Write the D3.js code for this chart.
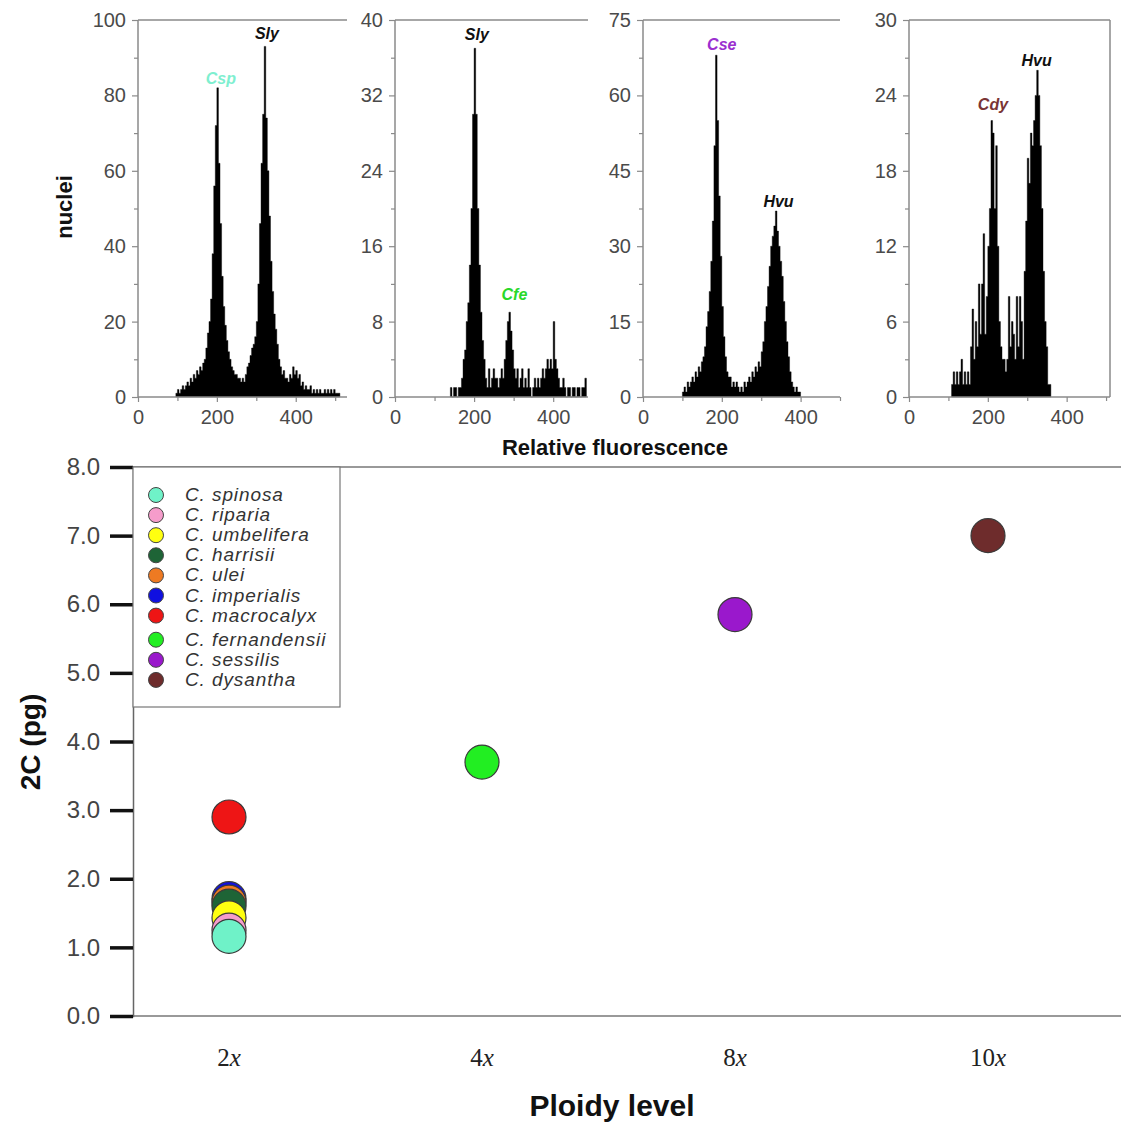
<!DOCTYPE html>
<html>
<head>
<meta charset="utf-8">
<script src="https://cdn.jsdelivr.net/npm/d3@7/dist/d3.min.js"></script>
<style>
    body { margin: 0; background: #fff; }
    svg { display: block; font-family: Arial, "Liberation Sans", sans-serif; }
</style>
</head>
<body>
<svg id="chart" width="1121" height="1123"></svg>
<script>
// ---- flow cytometry histograms (counts per 4-channel bin) ----
const binWidth = 4;

const cspStart = 96;
const cspCounts = [1, 2, 1, 2, 3, 2, 3, 4, 3, 5, 4, 6, 5, 7, 6, 8, 7, 9,
    10, 13, 17, 20, 26, 38, 56, 72, 82, 62, 46, 32, 24, 19, 15, 12, 10, 8, 7, 6, 6, 5, 5, 4, 5, 4,
    6, 8, 9, 11, 13, 14, 16, 20, 30, 46, 62, 75, 93, 74, 60, 48, 36, 28, 22, 18, 14, 10,
    8, 6, 7, 5, 5, 4, 6, 5, 8, 6, 7, 5, 6, 3, 4, 2, 3, 2, 2, 3, 1,
    2, 1, 2, 1, 2, 1, 1, 2, 1, 2, 1, 2, 1, 2, 1, 1, 1];

const cfeStart = 140;
const cfeCounts = [1, 0, 1, 1, 0, 1, 1, 2,
    4, 5, 8, 10, 14, 20, 30, 37, 30, 20, 14, 9, 6, 4,
    2, 1, 3, 1, 2, 3, 2, 2, 1, 2, 3, 2, 4, 6, 8, 9, 7, 5, 3, 2, 3, 1, 2, 3, 1, 2, 1, 3, 1, 0, 1, 2,
    1, 2, 1, 2, 3, 2, 3, 4, 3, 4, 3, 8, 4, 3, 2, 1, 1, 2, 1, 0, 1, 1, 0, 1, 1, 0, 1, 1, 0, 1, 1, 2];

const cseStart = 100;
const cseCounts = [1, 2, 1, 3, 2, 3, 4, 3, 5, 4, 6, 5, 7, 8, 10,
    14, 17, 21, 27, 35, 50, 68, 55, 40, 28, 18, 12, 8,
    5, 4, 4, 2, 3, 2, 3, 2, 1, 2, 1, 3, 2, 3, 4, 3, 5, 4, 6, 5, 7, 6,
    9, 11, 15, 18, 22, 26, 30, 32, 34, 37, 33, 30, 27, 24, 19, 15, 11, 8, 5, 3, 2, 1, 2, 1, 1];

const cdyStart = 108;
const cdyCounts = [1, 2, 1, 2, 1, 2, 3, 1, 2, 1, 2, 1, 4, 7, 3, 6, 4, 9, 5, 9, 13, 5, 8, 12, 15, 22, 21, 15, 20, 12, 6, 4, 3, 3, 2, 3, 8, 4, 6, 5, 3, 8, 4, 8, 6, 3, 10, 14, 19, 17, 21, 20, 22, 24, 26, 24, 20, 15, 10, 6, 4, 1, 1];

// y axis maxima and major tick steps of the four histograms
const histYMax = [100, 40, 75, 30];
const histYStep = [20, 8, 15, 6];
const histXTicks = [0, 200, 400];
const histXMinor = [100, 300, 500];

// peak labels
const peakNames = ['Csp', 'Sly', 'Sly', 'Cfe', 'Cse', 'Hvu', 'Cdy', 'Hvu'];
const peakPanel = [0, 0, 1, 1, 2, 2, 3, 3];
const peakChannel = [210, 327, 207, 302, 200, 344, 213, 324];
const peakCount = [83, 95, 37.9, 10.3, 69, 37.8, 22.8, 26.3];
const peakColors = ['#7fefd0', '#111', '#111', '#2ad82a', '#9b30d0', '#111', '#7a3434', '#111'];

// ---- genome size vs ploidy ----
const ploidyLevels = ['2x', '4x', '8x', '10x'];
const species = ['C. spinosa', 'C. riparia', 'C. umbelifera', 'C. harrisii', 'C. ulei', 'C. imperialis', 'C. macrocalyx', 'C. fernandensii', 'C. sessilis', 'C. dysantha'];
const speciesPloidy = ['2x', '2x', '2x', '2x', '2x', '2x', '2x', '4x', '8x', '10x'];
const genomeSize2C = [1.16, 1.25, 1.43, 1.6, 1.66, 1.71, 2.9, 3.7, 5.85, 7.0];
const speciesColors = ['#6ff2c8', '#f59ccb', '#ffff10', '#1e6436', '#ee7a22', '#1010e0', '#ee1515', '#22ee22', '#9a18cc', '#6e2c2c'];
const yTicks2C = [0, 1, 2, 3, 4, 5, 6, 7, 8];

const svg = d3.select('#chart');

/* s: histograms */
const histTop = 20;
const histBottom = 397;
const histLayout = [
    { left: 138, right: 347, xMax: 530, counts: cspCounts, start: cspStart },
    { left: 395, right: 588, xMax: 488, counts: cfeCounts, start: cfeStart },
    { left: 643, right: 840, xMax: 500, counts: cseCounts, start: cseStart },
    { left: 909, right: 1110, xMax: 510, counts: cdyCounts, start: cdyStart, box: true },
];
const axisGrey = '#8a8a8a';
const labelGrey = '#4a4a4a';

function styleTicks(sel) {
    sel.select('.domain').remove();
    sel.selectAll('.tick line').attr('stroke', axisGrey).attr('stroke-width', 1.2);
    sel.selectAll('.tick text')
        .attr('fill', labelGrey)
        .attr('font-size', 20)
        .attr('font-family', 'Arial, "Liberation Sans", sans-serif');
}

histLayout.forEach((p, idx) => {
    const x = d3.scaleLinear().domain([0, p.xMax]).range([p.left, p.right]);
    const y = d3.scaleLinear().domain([0, histYMax[idx]]).range([histBottom, histTop]);
    const g = svg.append('g');

    // histogram as a stepped area
    const bins = p.counts.map((c, i) => ({ ch: p.start + i * binWidth, c }));
    bins.push({ ch: p.start + p.counts.length * binWidth, c: 0 });
    const area = d3.area()
        .curve(d3.curveStepAfter)
        .x((d) => x(d.ch))
        .y0(histBottom)
        .y1((d) => y(d.c));
    g.append('path')
        .attr('d', area(bins))
        .attr('fill', '#000')
        .attr('stroke', '#000')
        .attr('stroke-width', 0.4);

    // frame
    g.append('line')
        .attr('x1', p.left).attr('x2', p.right)
        .attr('y1', histTop).attr('y2', histTop)
        .attr('stroke', axisGrey).attr('stroke-width', 1.5);
    if (p.box) {
        g.append('line')
            .attr('x1', p.right).attr('x2', p.right)
            .attr('y1', histTop).attr('y2', histBottom)
            .attr('stroke', axisGrey).attr('stroke-width', 1.5);
    }

    // y axis
    const step = histYStep[idx];
    const yMajor = d3.range(0, histYMax[idx] + step / 2, step);
    const yMinor = d3.range(step / 2, histYMax[idx], step);
    g.append('g')
        .attr('transform', `translate(${p.left},0)`)
        .call(d3.axisLeft(y).tickValues(yMajor).tickSize(6).tickPadding(6))
        .call(styleTicks);
    g.append('g')
        .attr('transform', `translate(${p.left},0)`)
        .call(d3.axisLeft(y).tickValues(yMinor).tickSize(4).tickFormat(''))
        .call(styleTicks);
    g.append('line')
        .attr('x1', p.left).attr('x2', p.left)
        .attr('y1', histTop).attr('y2', histBottom)
        .attr('stroke', axisGrey).attr('stroke-width', 1.5);

    // x axis
    g.append('g')
        .attr('transform', `translate(0,${histBottom})`)
        .call(d3.axisBottom(x).tickValues(histXTicks).tickSize(5).tickPadding(8))
        .call(styleTicks);
    g.append('g')
        .attr('transform', `translate(0,${histBottom})`)
        .call(d3.axisBottom(x).tickValues(histXMinor.filter((v) => v <= p.xMax)).tickSize(4).tickFormat(''))
        .call(styleTicks);
    g.append('line')
        .attr('x1', p.left).attr('x2', p.right)
        .attr('y1', histBottom).attr('y2', histBottom)
        .attr('stroke', axisGrey).attr('stroke-width', 1.5);

    // peak labels
    peakNames.forEach((name, k) => {
        if (peakPanel[k] !== idx) return;
        g.append('text')
            .attr('x', x(peakChannel[k]))
            .attr('y', y(peakCount[k]))
            .attr('text-anchor', 'middle')
            .attr('font-size', 16)
            .attr('font-weight', 'bold')
            .attr('font-style', 'italic')
            .attr('fill', peakColors[k])
            .text(name);
    });
});

svg.append('text')
    .attr('transform', 'translate(72,207) rotate(-90)')
    .attr('text-anchor', 'middle')
    .attr('font-size', 22)
    .attr('font-weight', 'bold')
    .attr('fill', '#111')
    .text('nuclei');

svg.append('text')
    .attr('x', 615)
    .attr('y', 455)
    .attr('text-anchor', 'middle')
    .attr('font-size', 22)
    .attr('font-weight', 'bold')
    .attr('fill', '#111')
    .text('Relative fluorescence');
/* e: histograms */

/* s: scatter */
const sc = { left: 133, right: 1121, top: 467, bottom: 1016 };
const x2 = d3.scalePoint().domain(ploidyLevels).range([229, 988]);
const y2 = d3.scaleLinear().domain([0, 8]).range([sc.bottom, sc.top]);

svg.append('line')
    .attr('x1', sc.left).attr('x2', sc.right)
    .attr('y1', sc.top).attr('y2', sc.top)
    .attr('stroke', '#777').attr('stroke-width', 1.5);
svg.append('line')
    .attr('x1', sc.left).attr('x2', sc.right)
    .attr('y1', sc.bottom).attr('y2', sc.bottom)
    .attr('stroke', '#777').attr('stroke-width', 1.5);

const yAx2 = svg.append('g')
    .attr('transform', `translate(${sc.left},0)`)
    .call(d3.axisLeft(y2).tickValues(yTicks2C).tickSize(23).tickPadding(10).tickFormat(d3.format('.1f')));
yAx2.select('.domain').attr('stroke', '#666').attr('stroke-width', 1.5);
yAx2.selectAll('.tick line').attr('stroke', '#111').attr('stroke-width', 3.5);
yAx2.selectAll('.tick text')
    .attr('fill', '#444')
    .attr('font-size', 24)
    .attr('font-family', 'Arial, "Liberation Sans", sans-serif');

// x tick labels: number + italic x
ploidyLevels.forEach((lev) => {
    const t = svg.append('text')
        .attr('x', x2(lev))
        .attr('y', 1066)
        .attr('text-anchor', 'middle')
        .attr('font-size', 25)
        .attr('font-family', '"Liberation Serif", "DejaVu Serif", serif')
        .attr('fill', '#222');
    t.append('tspan').text(lev.replace('x', ''));
    t.append('tspan').attr('font-style', 'italic').text('x');
});

// points, drawn so that C. spinosa ends on top
const order = d3.range(species.length).reverse();
svg.append('g')
    .selectAll('circle')
    .data(order)
    .join('circle')
    .attr('cx', (i) => x2(speciesPloidy[i]))
    .attr('cy', (i) => y2(genomeSize2C[i]))
    .attr('r', 17)
    .attr('fill', (i) => speciesColors[i])
    .attr('stroke', '#3a3a3a')
    .attr('stroke-width', 1.2);

// legend
const lg = svg.append('g');
lg.append('rect')
    .attr('x', sc.left).attr('y', sc.top)
    .attr('width', 207).attr('height', 240)
    .attr('fill', '#fff')
    .attr('stroke', '#777').attr('stroke-width', 1.2);
species.forEach((name, i) => {
    const ly = 495 + i * 20.1 + (i >= 7 ? 4 : 0);
    lg.append('circle')
        .attr('cx', 156).attr('cy', ly)
        .attr('r', 7.5)
        .attr('fill', speciesColors[i])
        .attr('stroke', '#444').attr('stroke-width', 1);
    lg.append('text')
        .attr('x', 185).attr('y', ly + 6)
        .attr('font-size', 19)
        .attr('letter-spacing', 0.9)
        .attr('font-style', 'italic')
        .attr('fill', '#333')
        .text(name);
});

svg.append('text')
    .attr('transform', 'translate(40,742) rotate(-90)')
    .attr('text-anchor', 'middle')
    .attr('font-size', 28)
    .attr('font-weight', 'bold')
    .attr('fill', '#111')
    .text('2C (pg)');

svg.append('text')
    .attr('x', 612)
    .attr('y', 1116)
    .attr('text-anchor', 'middle')
    .attr('font-size', 30)
    .attr('font-weight', 'bold')
    .attr('fill', '#111')
    .text('Ploidy level');
/* e: scatter */
</script>
</body>
</html>
